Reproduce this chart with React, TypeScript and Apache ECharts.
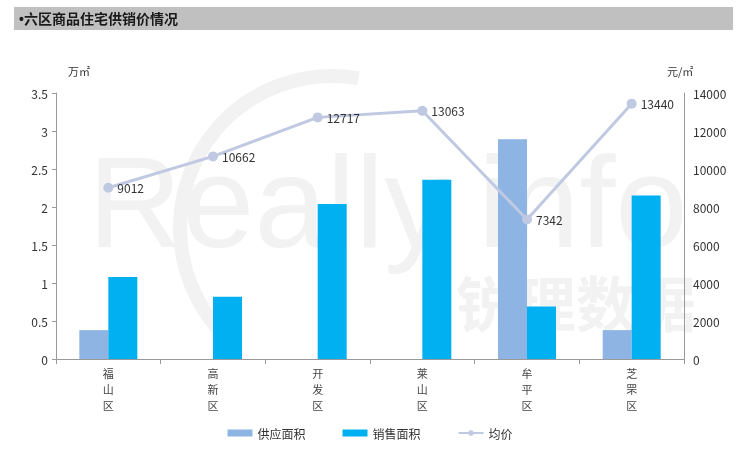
import React, { useEffect, useRef } from "react";
import * as echarts from "echarts";

const categories = ["福山区", "高新区", "开发区", "莱山区", "牟平区", "芝罘区"];
const supplyArea = [0.38, null, null, null, 2.89, 0.38];
const salesArea = [1.08, 0.82, 2.04, 2.36, 0.69, 2.15];
const avgPrice = [9012, 10662, 12717, 13063, 7342, 13440];
const titleText = "•六区商品住宅供销价情况";
const leftUnit = "万㎡";
const rightUnit = "元/㎡";
const seriesNames = ["供应面积", "销售面积", "均价"];

const FONT = "'Noto Sans CJK SC', 'Liberation Sans', sans-serif";
const TITLE_FONT = "'Liberation Sans', 'Noto Sans CJK SC', sans-serif";

function makeWatermark(): string {
  const c = document.createElement("canvas");
  c.width = 740;
  c.height = 450;
  const ctx = c.getContext("2d");
  if (!ctx) return "";
  const wm = "#f2f2f2";
  ctx.strokeStyle = wm;
  ctx.fillStyle = wm;
  ctx.lineWidth = 14;
  ctx.beginPath();
  ctx.arc(332, 228, 152, (130 * Math.PI) / 180, (280 * Math.PI) / 180, false);
  ctx.stroke();
  ctx.textBaseline = "alphabetic";
  ctx.font = "130px 'Liberation Sans', sans-serif";
  ctx.fillText("Really", 88, 247);
  ctx.fillText("info", 478, 247);
  ctx.font = "bold 60px 'Noto Sans CJK SC', sans-serif";
  ctx.textBaseline = "middle";
  ctx.fillText("锐理数据", 456, 304);
  return c.toDataURL("image/png");
}

export default function App() {
  const ref = useRef<HTMLDivElement>(null);
  useEffect(() => {
    if (!ref.current) return;
    const chart = echarts.init(ref.current, null, { renderer: "svg" });
    const wmImage = makeWatermark();
    chart.setOption({
      animation: false,
      textStyle: { fontFamily: FONT },
      graphic: [
        {
          type: "image", z: 0, silent: true, x: 0, y: 0,
          style: { image: wmImage, x: 0, y: 0, width: 740, height: 450 },
        },
        { type: "rect", z: 0, shape: { x: 14, y: 7, width: 719, height: 23 }, style: { fill: "#c0c0c0" } },
        {
          type: "text", z: 1, x: 19, y: 19,
          style: { text: titleText, fill: "#1a1a1a", font: `bold 14px ${TITLE_FONT}`, verticalAlign: "middle" },
        },
        {
          type: "text", z: 1, x: 68, y: 71,
          style: { text: leftUnit, fill: "#333", font: `11px ${FONT}`, verticalAlign: "middle" },
        },
        {
          type: "text", z: 1, x: 667, y: 71,
          style: { text: rightUnit, fill: "#333", font: `11px ${FONT}`, verticalAlign: "middle" },
        },
      ],
      grid: { left: 56, right: 56, top: 93, bottom: 91, containLabel: false },
      legend: {
        bottom: 6,
        left: "center",
        itemWidth: 25,
        itemHeight: 7,
        itemGap: 37,
        textStyle: { color: "#333", fontSize: 12, fontFamily: FONT },
        data: [
          { name: seriesNames[0], icon: "rect" },
          { name: seriesNames[1], icon: "rect" },
          { name: seriesNames[2] },
        ],
      },
      xAxis: {
        type: "category",
        data: categories,
        axisLine: { lineStyle: { color: "#999" } },
        axisTick: { show: true, alignWithLabel: false, length: 5, lineStyle: { color: "#999" } },
        axisLabel: {
          color: "#444",
          fontSize: 11,
          lineHeight: 16,
          margin: 6,
          formatter: (v: string) => v.split("").join("\n"),
        },
      },
      yAxis: [
        {
          type: "value",
          min: 0,
          max: 3.5,
          interval: 0.5,
          axisLine: { show: true, lineStyle: { color: "#999" } },
          axisTick: { show: true, length: 4, lineStyle: { color: "#999" } },
          axisLabel: { color: "#333", fontSize: 12, margin: 8 },
          splitLine: { show: false },
        },
        {
          type: "value",
          min: 0,
          max: 14000,
          interval: 2000,
          axisLine: { show: true, lineStyle: { color: "#999" } },
          axisTick: { show: false },
          axisLabel: { color: "#333", fontSize: 12, margin: 9, formatter: (v: number) => String(v) },
          splitLine: { show: false },
        },
      ],
      series: [
        {
          name: seriesNames[0],
          type: "bar",
          data: supplyArea,
          barWidth: 29,
          barGap: "0%",
          itemStyle: { color: "#8eb4e3" },
          z: 2,
        },
        {
          name: seriesNames[1],
          type: "bar",
          data: salesArea,
          barWidth: 29,
          barGap: "0%",
          itemStyle: { color: "#00b0f0" },
          z: 2,
        },
        {
          name: seriesNames[2],
          type: "line",
          yAxisIndex: 1,
          data: avgPrice,
          symbol: "circle",
          symbolSize: 10,
          lineStyle: { color: "#bfc9e1", width: 3 },
          itemStyle: { color: "#bfc9e1" },
          label: { show: true, position: "right", color: "#333", fontSize: 12, distance: 4 },
          z: 3,
        },
      ],
    });
    return () => chart.dispose();
  }, []);
  return <div ref={ref} style={{ position: "fixed", left: 0, top: 0, width: 740, height: 450 }} />;
}
